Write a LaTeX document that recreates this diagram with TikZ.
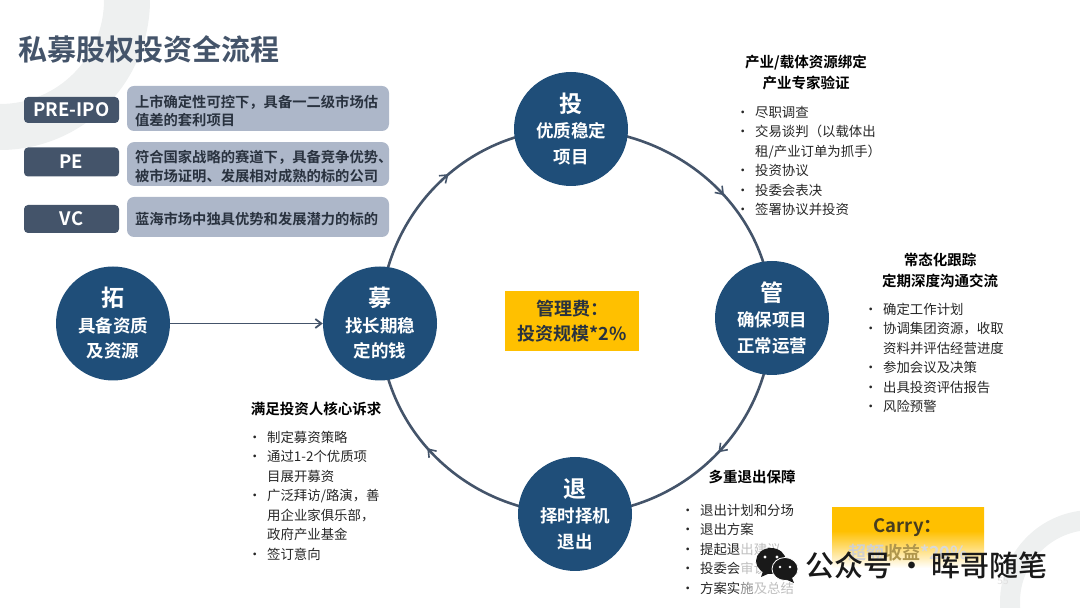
\documentclass[tikz,border=0pt]{standalone}
\usepackage{fontspec}
\setmainfont{Noto Sans CJK SC}[BoldFont={Noto Sans CJK SC Bold}]
\newfontfamily\markfont{Noto Sans CJK SC Medium}
\usetikzlibrary{arrows.meta,positioning,backgrounds,decorations.markings}
\definecolor{pefblue}{HTML}{1F4E79}
\definecolor{pefslate}{HTML}{44546A}
\definecolor{pefsoft}{HTML}{ADB7C9}
\definecolor{pefgold}{HTML}{FFC000}
\definecolor{pefring}{HTML}{EEF0F0}
\definecolor{pefink}{HTML}{262626}
\pgfdeclareverticalshading{carryfade}{100bp}{color(0bp)=(white); color(25bp)=(white); color(56bp)=(pefgold); color(100bp)=(pefgold)}
\newcommand{\bul}[1]{\makebox[14pt][l]{\hspace{-5pt}•}#1}
\newcommand{\cont}[1]{\makebox[14pt][l]{}#1}
\newcommand{\stagechar}[1]{{\fontsize{23}{30}\selectfont #1}}
\tikzset{
  stagenode/.style={circle, fill=pefblue, text=white, minimum size=114pt, inner sep=0pt, align=center, font=\fontsize{17.5}{25.5}\selectfont\bfseries},
  tagbox/.style={fill=pefslate, text=white, rounded corners=4pt, minimum width=95pt, font=\fontsize{18.5}{20}\selectfont\bfseries},
  descbox/.style={fill=pefsoft, text=pefslate!60!black, rounded corners=7pt, minimum width=262pt, text width=246pt, align=left, font=\fontsize{14.3}{18.6}\selectfont\bfseries, execute at begin node={\rule{0pt}{17pt}}},
  headtext/.style={text=black, align=center, font=\fontsize{14.5}{21}\selectfont\bfseries, inner sep=0pt},
  listtext/.style={text=pefink, align=left, anchor=north west, font=\fontsize{13.4}{19.45}\selectfont, inner sep=0pt},
  flowarc/.style={draw=pefslate, line width=2.6pt, postaction={decorate}},
  midbarb/.style={decoration={markings, mark=at position #1 with {\arrow{Straight Barb[length=7pt,width=10pt,line width=1.6pt]}}}}
}

\begin{document}
\begin{tikzpicture}[x=1pt, y=1pt]
  \useasboundingbox (0,0) rectangle (1080,608);
  \node[stagenode] (tuo) at (113,284.5) {\stagechar{拓}\\具备资质\\及资源};
  \node[stagenode] (mu) at (380,284.5) {\stagechar{募}\\找长期稳\\定的钱};
  \node[stagenode] (tou) at (571,479) {\stagechar{投}\\优质稳定\\项目};
  \node[stagenode] (guan) at (772,290) {\stagechar{管}\\确保项目\\正常运营};
  \node[stagenode] (tui) at (575,94) {\stagechar{退}\\择时择机\\退出};
  \begin{scope}[on background layer]
    \fill[pefring, even odd rule] (0,608) circle (150) (0,608) circle (104);
    \fill[pefring, even odd rule] (1092,6) circle (92) (1092,6) circle (72);
    \draw[flowarc, midbarb=0.56] (mu.center) to[out=90, in=180] (tou.center);
    \draw[flowarc, midbarb=0.56] (tou.center) to[out=0, in=90] (guan.center);
    \draw[flowarc, midbarb=0.48] (guan.center) to[out=-90, in=0] (tui.center);
    \draw[flowarc, midbarb=0.55] (tui.center) to[out=180, in=-90] (mu.center);
  \end{scope}
  \draw[pefslate, line width=1.8pt, -{Straight Barb[length=6pt,width=9pt]}] (tuo) -- (mu);
  \node[anchor=west, inner sep=0pt, text=pefslate, font=\fontsize{29}{31}\selectfont\bfseries] (title) at (18,559) {私募股权投资全流程};
  \node[tagbox, minimum height=26pt] (preipo) at (71.5,498) {PRE-IPO};
  \node[tagbox, minimum height=29pt] (pe) at (71.5,446) {PE};
  \node[tagbox, minimum height=28pt] (vc) at (71.5,389) {VC};
  \node[descbox, minimum height=45pt] (predesc) at (258,499.5) {上市确定性可控下，具备一二级市场估\\值差的套利项目};
  \node[descbox, minimum height=42pt] (pedesc) at (258,444) {符合国家战略的赛道下，具备竞争优势、\\被市场证明、发展相对成熟的标的公司};
  \node[descbox, minimum height=40pt] (vcdesc) at (258,391) {蓝海市场中独具优势和发展潜力的标的};
  \node[fill=pefgold, minimum width=134pt, minimum height=60pt, align=center, text=pefslate!60!black, font=\fontsize{18}{25}\selectfont\bfseries] (fee) at (572,287) {管理费：\\投资规模*2\%};
  \node[headtext] (touhead) at (806,535) {产业/载体资源绑定\\产业专家验证};
  \node[listtext] (toulist) at (741,502) {\bul{尽职调查}\\\bul{交易谈判（以载体出}\\\cont{租/产业订单为抓手）}\\\bul{投资协议}\\\bul{投委会表决}\\\bul{签署协议并投资}};
  \node[headtext] (guanhead) at (940,337.5) {常态化跟踪\\定期深度沟通交流};
  \node[listtext] (guanlist) at (869,305) {\bul{确定工作计划}\\\bul{协调集团资源，收取}\\\cont{资料并评估经营进度}\\\bul{参加会议及决策}\\\bul{出具投资评估报告}\\\bul{风险预警}};
  \node[headtext] (muhead) at (316,199) {满足投资人核心诉求};
  \node[listtext] (mulist) at (253,177) {\bul{制定募资策略}\\\bul{通过1-2个优质项}\\\cont{目展开募资}\\\bul{广泛拜访/路演，善}\\\cont{用企业家俱乐部，}\\\cont{政府产业基金}\\\bul{签订意向}};
  \node[headtext] (tuihead) at (752,131) {多重退出保障};
  \node[listtext] (tuilist) at (686,104) {\bul{退出计划和分场}\\\bul{退出方案}\\\bul{提起退\textcolor{black!25}{出建议}}\\\bul{投委会\textcolor{black!25}{审议}}\\\bul{方案实\textcolor{black!45}{施}\textcolor{black!25}{及总结}}};
  \node[shading=carryfade, minimum width=152pt, minimum height=60pt] (carry) at (908,70) {};
  \node[inner sep=0pt, text=pefink!85!pefgold, font=\fontsize{18.5}{20}\selectfont\bfseries] (carrytop) at (908,80) {Carry：};
  \node[inner sep=0pt, font=\fontsize{18}{20}\selectfont\bfseries] (carrybottom) at (908,55) {\textcolor{black!18}{超额}\textcolor{black!45!pefgold!70}{收益}\textcolor{black!15}{*20\%}};
  \node[inner sep=0pt, text=black!12, font=\fontsize{10}{12}\selectfont] (pageno) at (1003,27) {55};
  \fill[black!90] (771,47) ellipse (15 and 13);
  \fill[black!90] (763,37) -- (761,31) -- (770,35) -- cycle;
  \fill[white] (765,51) circle (1.6) (777,51) circle (1.6);
  \fill[black!90, draw=white, line width=0.8pt] (785,39) ellipse (13 and 11.5);
  \fill[black!90] (792,30) -- (794,25) -- (785,29) -- cycle;
  \fill[white] (780,41) circle (1.3) (790,41) circle (1.3);
  \node[anchor=west, inner sep=0pt, text=black!90, font=\fontsize{29}{30}\selectfont\markfont] (mark) at (805,43) {公众号\hspace{5pt}·\hspace{5pt}晖哥随笔};
\end{tikzpicture}
\end{document}
